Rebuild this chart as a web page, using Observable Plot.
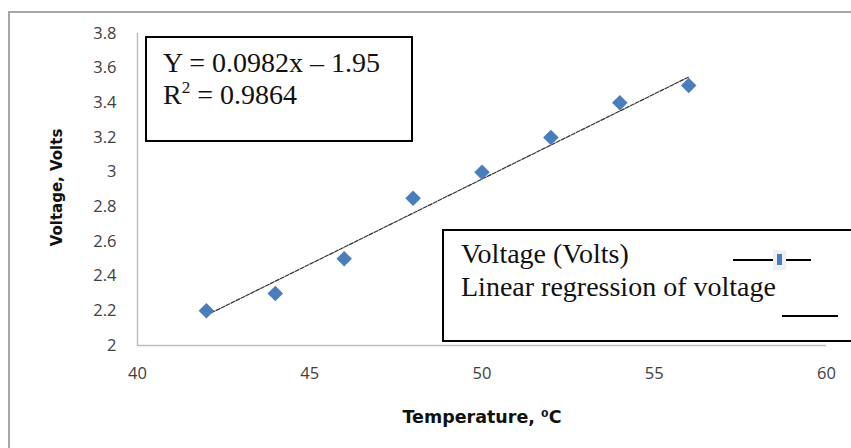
<!DOCTYPE html>
<html>
<head>
<meta charset="utf-8">
<script src="https://cdn.jsdelivr.net/npm/d3@7"></script>
<script src="https://cdn.jsdelivr.net/npm/@observablehq/plot@0.6"></script>
<style>
  html, body { margin: 0; padding: 0; background: #fff; }
  #wrap { position: relative; width: 851px; height: 448px; overflow: hidden; }
  #frame { position: absolute; left: 8px; top: 11px; width: 900px; height: 500px;
           border-left: 2px solid #a6a6a6; border-top: 2px solid #a6a6a6; }
  .box { position: absolute; border: 2px solid #000; background: #fff;
         font-family: "Liberation Serif", "Times New Roman", serif; color: #111; }
  .box .t { position: absolute; white-space: nowrap; font-size: 28px; line-height: 28px; }
  #eq { left: 145px; top: 36px; width: 264px; height: 102px; }
  #leg { left: 442px; top: 229px; width: 440px; height: 109px; }
  #leg .ln { position: absolute; height: 0; border-top: 2px solid #000; }
  #leg .mk { position: absolute; width: 13px; height: 20px; background: #eef0f3; }
  #leg .mk span { position: absolute; left: 4px; top: 4px; width: 5px; height: 11px; background: #4a7ebb; }
  svg { position: absolute; left: 0; top: 0; }
</style>
</head>
<body>
<div id="wrap">
  <div id="frame"></div>
  <div id="plot"></div>
</div>
<script>
const temperature = [42, 44, 46, 48, 50, 52, 54, 56];
const voltage = [2.2, 2.3, 2.5, 2.85, 3.0, 3.2, 3.4, 3.5];
const slope = 0.0982;
const intercept = -1.95;
const xTicks = [40, 45, 50, 55, 60];
const yTicks = [2, 2.2, 2.4, 2.6, 2.8, 3, 3.2, 3.4, 3.6, 3.8];
const eqLines = ["Y = 0.0982x \u2013 1.95", "R<sup style=\"font-size:17px;vertical-align:11px;line-height:0\">2</sup> = 0.9864"];
const legendLabels = ["Voltage (Volts)", "Linear regression of voltage"];

const points = temperature.map((t, i) => ({t, v: voltage[i]}));
const xFit = [d3.min(temperature), d3.max(temperature)];
const fit = xFit.map(t => ({t, v: slope * t + intercept}));

const chart = Plot.plot({
  width: 851,
  height: 448,
  marginLeft: 137,
  marginRight: 25,
  marginTop: 33,
  marginBottom: 103,
  style: {fontFamily: "'Open Sans', 'Noto Sans', sans-serif", fontSize: "16px", color: "#444", background: "transparent"},
  x: {domain: [40, 60], label: null},
  y: {domain: [2, 3.8], label: null},
  marks: [
    Plot.ruleX([40], {y1: 2, y2: 3.8, stroke: "#bfbfbf", strokeWidth: 1.5}),
    Plot.ruleY([2], {x1: 40, x2: 60, stroke: "#bfbfbf", strokeWidth: 1.5}),
    Plot.axisX({ticks: xTicks, tickSize: 0, tickPadding: 22, fill: "#404040", fontSize: 16.5, label: null}),
    Plot.axisY({ticks: yTicks, tickSize: 0, tickPadding: 21, fill: "#404040", fontSize: 16.5, label: null, tickFormat: d => String(d)}),
    Plot.line(fit, {x: "t", y: "v", stroke: "#333", strokeWidth: 1.2, strokeDasharray: "4,1.5"}),
    Plot.dot(points, {x: "t", y: "v", symbol: "diamond2", r: 7, fill: "#4a7ebb", stroke: "none"}),
    Plot.text(["Temperature, \u2070C"], {frameAnchor: "bottom", dy: 72, lineAnchor: "middle", fontWeight: "bold", fontSize: 17.5, fill: "#111", fontFamily: "'DejaVu Sans', sans-serif"}),
    Plot.text(["Voltage, Volts"], {frameAnchor: "left", dx: -80, dy: -2, rotate: -90, textAnchor: "middle", lineAnchor: "middle", fontWeight: "bold", fontSize: 15, fill: "#111", fontFamily: "'DejaVu Sans', sans-serif"})
  ]
});
document.getElementById("plot").appendChild(chart);

const wrap = document.getElementById("wrap");
const eq = document.createElement("div");
eq.id = "eq"; eq.className = "box";
eq.innerHTML = eqLines.map((s, i) => `<div class="t" style="left:16px; top:${10.6 + i * 32}px">${s}</div>`).join("");
wrap.appendChild(eq);

const leg = document.createElement("div");
leg.id = "leg"; leg.className = "box";
leg.innerHTML = legendLabels.map((s, i) => `<div class="t" style="left:17px; top:${8.6 + i * 33}px">${s}</div>`).join("") + `
  <div class="ln" style="left:289px; top:28px; width:78px"></div>
  <div class="mk" style="left:329px; top:19px"><span></span></div>
  <div class="ln" style="left:338px; top:84px; width:56px"></div>`;
wrap.appendChild(leg);
</script>
</body>
</html>
